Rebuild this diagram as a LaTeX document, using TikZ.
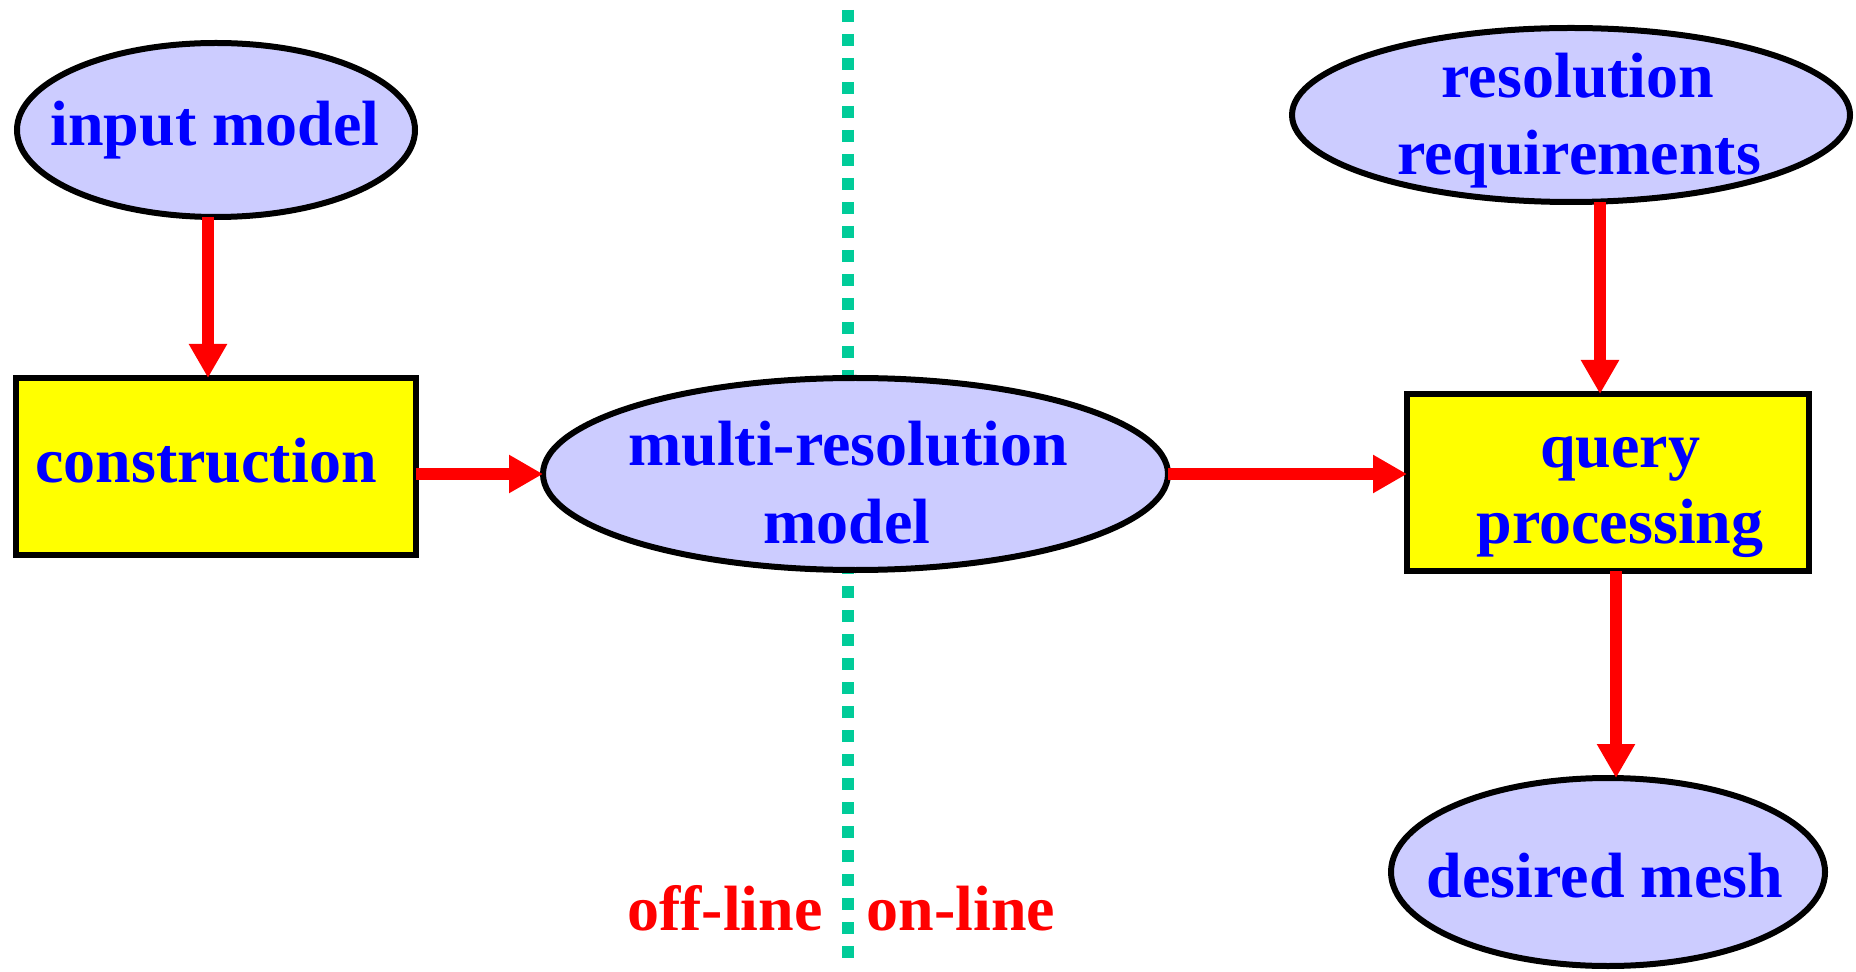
\documentclass[tikz,border=0pt]{standalone}
\usepackage{fontspec}
\setmainfont{Liberation Serif}
\usetikzlibrary{shapes.geometric,arrows.meta,calc}
\definecolor{lav}{HTML}{CCCCFF}
\definecolor{bl}{HTML}{0000FF}
\definecolor{yel}{HTML}{FFFF00}
\definecolor{rd}{HTML}{FF0000}
\definecolor{grn}{HTML}{00CC99}
\begin{document}
\begin{tikzpicture}[x=0.5pt,y=-0.5pt,
  ell/.style={ellipse, draw=black, line width=3pt, fill=lav, inner sep=0pt, outer sep=0pt},
  box/.style={rectangle, draw=black, line width=3pt, fill=yel, inner sep=0pt, outer sep=0pt},
  lbl/.style={text=bl, font=\fontsize{32}{38}\selectfont\bfseries, inner sep=0pt, anchor=base},
  side/.style={text=rd, font=\fontsize{32}{38}\selectfont\bfseries, inner sep=0pt, anchor=base},
  arr/.style={draw=rd, line width=6pt, -{Triangle[length=17pt,width=18pt]}},
  sep/.style={draw=grn, line width=6pt, dash pattern=on 6pt off 6pt}]
\useasboundingbox (0,0) rectangle (1856,972);
% separator
\coordinate (dtop) at (848,10);
\coordinate (dbot) at (848,958);
\draw[sep] (dtop) -- (dbot);
% shapes
\node[ell, minimum width=199pt, minimum height=87pt] (input) at (216,130) {};
\node[box, minimum width=200pt, minimum height=88.5pt] (cons) at (216,466.5) {};
\node[ell, minimum width=312.5pt, minimum height=96pt] (multi) at (855.5,474) {};
\node[ell, minimum width=279pt, minimum height=87pt] (resreq) at (1571,115) {};
\node[box, minimum width=201pt, minimum height=88.5pt] (query) at (1608,482.5) {};
\node[ell, minimum width=217pt, minimum height=94pt] (desired) at (1608,872) {};
% texts
\node[lbl] (tinput) at (215,146) {input model};
\node[lbl] (tcons) at (206,482) {construction};
\node[lbl] (tmulti1) at (848,466) {multi-resolution};
\node[lbl] (tmulti2) at (847,543) {model};
\node[lbl] (tres1) at (1578,98) {resolution};
\node[lbl] (tres2) at (1579,175) {requirements};
\node[lbl] (tquery1) at (1620,467) {query};
\node[lbl] (tquery2) at (1620,543) {processing};
\node[lbl] (tdes) at (1605,897) {desired mesh};
\node[side] (toff) at (725,930) {off-line};
\node[side] (ton) at (961,930) {on-line};
% connectors
\draw[arr] ([xshift=-4pt]input.south) -- ([xshift=-4pt]cons.north);
\draw[arr] (cons.east |- multi.west) -- (multi.west);
\draw[arr] (multi.east) -- (multi.east -| query.west);
\coordinate (qin) at ([xshift=-4pt]query.north);
\draw[arr] (resreq.south -| qin) -- (qin);
\coordinate (din) at ([xshift=4pt]desired.north);
\draw[arr] (query.south -| din) -- (din);
\end{tikzpicture}
\end{document}
